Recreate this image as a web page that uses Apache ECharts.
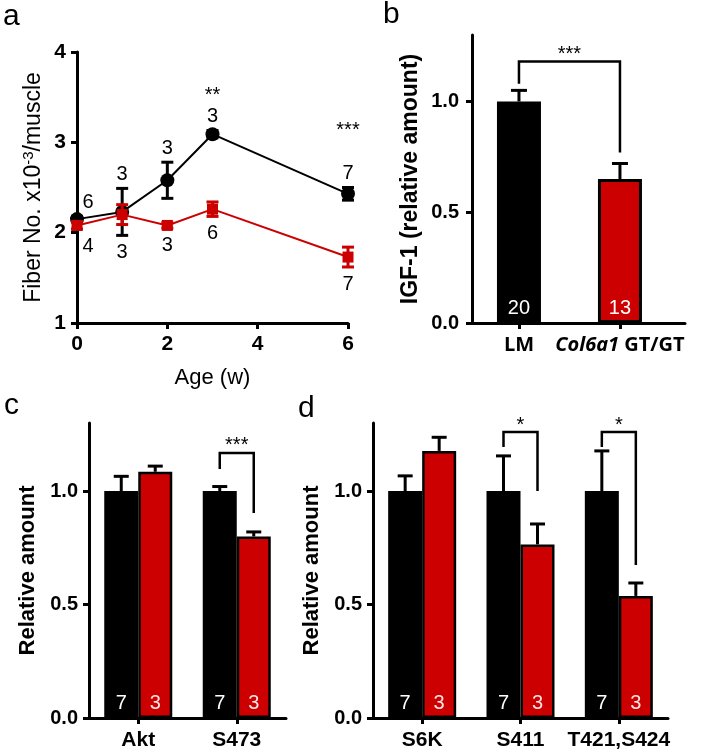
<!DOCTYPE html>
<html><head><meta charset="utf-8">
<script src="https://cdn.jsdelivr.net/npm/echarts@6/dist/echarts.min.js"></script>
<style>html,body{margin:0;padding:0;background:#fff}#c{width:711px;height:753px}</style>
</head><body><div id="c"></div><script>
// ---------- Panel a: fiber number vs age ----------
const ageWeeks   = [0, 1, 2, 3, 6];
const lmFiber    = [2.15, 2.23, 2.58, 3.09, 2.43];
const lmFiberErr = [0.03, 0.26, 0.20, 0.04, 0.07];
const gtFiber    = [2.08, 2.20, 2.08, 2.26, 1.73];
const gtFiberErr = [0.04, 0.11, 0.03, 0.08, 0.11];
const lmFiberN   = [6, 3, 3, 3, 7];
const gtFiberN   = [4, 3, 3, 6, 7];
const fiberStars = ['', '', '', '**', '***'];
const fiberStarY = [null, null, null, 3.52, 3.13];

// ---------- Panel b: IGF-1 ----------
const igfGroups = ['LM', 'Col6a1 GT/GT'];
const igfMean   = [1.0, 0.65];
const igfErr    = [0.05, 0.07];
const igfN      = [20, 13];
const igfBracket = [0, 1, 1.18, 1.08, 0.77]; // from, to, top, left end, right end
const igfStars  = '***';

// ---------- Panel c: Akt ----------
const aktCats  = ['Akt', 'S473'];
const aktLM    = [1.0, 1.0];
const aktLMErr = [0.065, 0.02];
const aktGT    = [1.085, 0.80];
const aktGTErr = [0.025, 0.02];
const aktLMN   = [7, 7];
const aktGTN   = [3, 3];
const aktBrackets = [[1, 1.168, 1.097, 0.903]]; // category, top, left end, right end
const aktStars = ['***'];

// ---------- Panel d: S6K ----------
const s6kCats  = ['S6K', 'S411', 'T421,S424'];
const s6kLM    = [1.0, 1.0, 1.0];
const s6kLMErr = [0.067, 0.155, 0.177];
const s6kGT    = [1.177, 0.765, 0.538];
const s6kGTErr = [0.06, 0.09, 0.057];
const s6kLMN   = [7, 7, 7];
const s6kGTN   = [3, 3, 3];
const s6kBrackets = [[1, 1.26, 1.194, 1.0], [2, 1.26, 1.194, 0.674]];
const s6kStars = ['*', '*'];

const relTicks = [0, 0.5, 1.0];

const FONT = '"Liberation Sans", Arial, sans-serif';
const RED = '#cc0000';
const BLACK = '#000';
const chart = echarts.init(document.getElementById('c'), null, {renderer: 'canvas'});

function axisLineStyle() { return {show: true, onZero: false, lineStyle: {color: BLACK, width: 3}}; }
function tickStyle(vals) {
  const t = {show: true, length: 6, lineStyle: {color: BLACK, width: 3}};
  if (vals) t.customValues = vals;
  return t;
}

function errBars(dx, cap, both, color) {
  return function (params, api) {
    const x = api.value(0), y = api.value(1), e = api.value(2);
    const c = api.coord([x, y]);
    const t = api.coord([x, y + e]);
    const b = both ? api.coord([x, y - e]) : c;
    const px = c[0] + dx;
    const st = {stroke: color, lineWidth: 3};
    const ch = [
      {type: 'line', shape: {x1: px, y1: t[1], x2: px, y2: b[1]}, style: st},
      {type: 'line', shape: {x1: px - cap, y1: t[1], x2: px + cap, y2: t[1]}, style: st}
    ];
    if (both) ch.push({type: 'line', shape: {x1: px - cap, y1: b[1], x2: px + cap, y2: b[1]}, style: st});
    return {type: 'group', children: ch};
  };
}

function bracketRender(dxL, dxR, starsArr) {
  return function (params, api) {
    const x1 = api.value(0), x2 = api.value(1), top = api.value(2), lb = api.value(3), rb = api.value(4);
    const pL = api.coord([x1, lb]), pR = api.coord([x2, rb]);
    const yT = api.coord([x1, top])[1];
    const xl = pL[0] + dxL, xr = pR[0] + dxR;
    return {type: 'group', children: [
      {type: 'polyline', shape: {points: [[xl, pL[1]], [xl, yT], [xr, yT], [xr, pR[1]]]},
        style: {stroke: BLACK, lineWidth: 2.5, fill: null}},
      {type: 'text', x: (xl + xr) / 2, y: yT - 7,
        style: {text: starsArr[params.dataIndex], font: '20px ' + FONT, fill: BLACK, align: 'center', verticalAlign: 'middle'}}
    ]};
  };
}

function textRender(dyPx, dxZero) {
  return function (params, api) {
    const x = api.value(0), y = api.value(1);
    const p = api.coord([x, y]);
    const txt = String(api.value(2));
    return {type: 'text', x: p[0] + (x === 0 ? dxZero : 0), y: p[1] + dyPx,
      style: {text: txt, font: '20px ' + FONT, fill: BLACK, align: 'center', verticalAlign: 'middle'}};
  };
}

// label anchors for panel a
const lmLabelData = ageWeeks.map((x, i) => [x, lmFiber[i] + lmFiberErr[i], lmFiberN[i]]);
const gtLabelData = ageWeeks.map((x, i) => [x, Math.min(gtFiber[i] - gtFiberErr[i], lmFiber[i] - lmFiberErr[i]), gtFiberN[i]]);
const starData = [];
ageWeeks.forEach((x, i) => { if (fiberStars[i]) starData.push([x, fiberStarY[i], i]); });

const relYAxis = (gi, name, gap, nameSize, margin) => ({
  type: 'value', gridIndex: gi, min: 0, max: 1.3,
  axisLine: axisLineStyle(), axisTick: tickStyle(relTicks),
  axisLabel: {customValues: relTicks, formatter: v => v.toFixed(1), fontSize: 20, fontWeight: 'bold', color: BLACK, fontFamily: FONT, margin: margin},
  splitLine: {show: false},
  name: name, nameLocation: 'middle', nameRotate: 90, nameGap: gap,
  nameTextStyle: {fontSize: nameSize, fontWeight: 'bold', color: BLACK, fontFamily: FONT}
});

const catXAxis = (gi, cats) => ({
  type: 'category', gridIndex: gi, data: cats,
  axisLine: axisLineStyle(), axisTick: {show: true, alignWithLabel: true, length: 6, lineStyle: {color: BLACK, width: 3}},
  axisLabel: {interval: 0, fontSize: 21, fontWeight: 'bold', color: BLACK, fontFamily: FONT, margin: 12}
});

function groupedBars(gi, lm, gt, lmN, gtN) {
  const lbl = (arr, col) => ({show: true, position: 'insideBottom', distance: 5, fontSize: 20, color: col, fontFamily: FONT,
    formatter: p => String(arr[p.dataIndex])});
  return [
    {type: 'bar', xAxisIndex: gi, yAxisIndex: gi, data: lm, barWidth: 34, barGap: '0%', z: 2,
      itemStyle: {color: BLACK, borderColor: BLACK, borderWidth: 2.5}, label: lbl(lmN, '#fff')},
    {type: 'bar', xAxisIndex: gi, yAxisIndex: gi, data: gt, barWidth: 34, barGap: '0%', z: 2,
      itemStyle: {color: RED, borderColor: BLACK, borderWidth: 2.5}, label: lbl(gtN, '#fbe4e4')}
  ];
}

const option = {
  backgroundColor: '#fff',
  animation: false,
  grid: [
    {left: 77, top: 52, width: 271, height: 271},
    {left: 472, top: 35, width: 213, height: 288},
    {left: 89, top: 423, width: 197, height: 295},
    {left: 373, top: 423, width: 295, height: 295}
  ],
  xAxis: [
    {type: 'value', gridIndex: 0, min: 0, max: 6, interval: 2,
      axisLine: axisLineStyle(), axisTick: tickStyle(),
      axisLabel: {fontSize: 21, fontWeight: 'bold', color: BLACK, fontFamily: FONT, margin: 11},
      splitLine: {show: false},
      name: 'Age (w)', nameLocation: 'middle', nameGap: 44,
      nameTextStyle: {fontSize: 22, color: BLACK, fontFamily: FONT}},
    {type: 'value', gridIndex: 1, min: -0.465, max: 1.644,
      axisLine: axisLineStyle(), axisTick: tickStyle([0, 1]),
      axisLabel: {customValues: [0, 1], fontSize: 20, fontWeight: 'bold', color: BLACK, fontFamily: '"Open Sans", ' + FONT, margin: 12,
        formatter: v => igfGroups[Math.round(v)].replace('Col6a1', '{it|Col6a1}'),
        rich: {it: {fontStyle: 'italic', fontWeight: 'bold', fontSize: 20, color: BLACK, fontFamily: '"Open Sans", ' + FONT}}},
      splitLine: {show: false}},
    catXAxis(2, aktCats),
    catXAxis(3, s6kCats)
  ],
  yAxis: [
    {type: 'value', gridIndex: 0, min: 1, max: 4, interval: 1,
      axisLine: axisLineStyle(), axisTick: tickStyle(),
      axisLabel: {fontSize: 21, fontWeight: 'bold', color: BLACK, fontFamily: FONT, margin: 11},
      splitLine: {show: false},
      name: 'Fiber No. x10{sup|-3}/muscle', nameLocation: 'middle', nameRotate: 90, nameGap: 30,
      nameTextStyle: {fontSize: 23, color: BLACK, fontFamily: FONT,
        rich: {sup: {fontSize: 15, color: BLACK, fontFamily: FONT, verticalAlign: 'top', padding: [0, 0, 11, 0]}}}},
    relYAxis(1, 'IGF-1 (relative amount)', 50, 23, 13),
    relYAxis(2, 'Relative amount', 50, 22, 11),
    relYAxis(3, 'Relative amount', 50, 22, 11)
  ],
  series: [
    // panel a
    {type: 'line', xAxisIndex: 0, yAxisIndex: 0, data: ageWeeks.map((x, i) => [x, lmFiber[i]]),
      symbol: 'circle', symbolSize: 14, z: 2, lineStyle: {color: BLACK, width: 2}, itemStyle: {color: BLACK}},
    {type: 'custom', xAxisIndex: 0, yAxisIndex: 0, z: 3, renderItem: errBars(0, 6, true, BLACK),
      data: ageWeeks.map((x, i) => [x, lmFiber[i], lmFiberErr[i]]), encode: {x: 0, y: 1}},
    {type: 'line', xAxisIndex: 0, yAxisIndex: 0, data: ageWeeks.map((x, i) => [x, gtFiber[i]]),
      symbol: 'rect', symbolSize: 11, z: 4, lineStyle: {color: RED, width: 2}, itemStyle: {color: RED}},
    {type: 'custom', xAxisIndex: 0, yAxisIndex: 0, z: 5, renderItem: errBars(0, 6, true, RED),
      data: ageWeeks.map((x, i) => [x, gtFiber[i], gtFiberErr[i]]), encode: {x: 0, y: 1}},
    {type: 'custom', xAxisIndex: 0, yAxisIndex: 0, z: 6, renderItem: textRender(-14, 11), data: lmLabelData, encode: {x: 0, y: 1}},
    {type: 'custom', xAxisIndex: 0, yAxisIndex: 0, z: 6, renderItem: textRender(17, 11), data: gtLabelData, encode: {x: 0, y: 1}},
    {type: 'custom', xAxisIndex: 0, yAxisIndex: 0, z: 6, encode: {x: 0, y: 1}, data: starData,
      renderItem: (params, api) => {
        const p = api.coord([api.value(0), api.value(1)]);
        return {type: 'text', x: p[0], y: p[1],
          style: {text: fiberStars[api.value(2)], font: '20px ' + FONT, fill: BLACK, align: 'center', verticalAlign: 'middle'}};
      }},

    // panel b
    {type: 'bar', xAxisIndex: 1, yAxisIndex: 1, barWidth: 44, z: 2,
      data: igfMean.map((v, i) => ({value: [i, v], itemStyle: {color: i === 0 ? BLACK : RED}})),
      itemStyle: {borderColor: BLACK, borderWidth: 3},
      label: {show: true, position: 'insideBottom', distance: 5, fontSize: 20, fontFamily: FONT,
        formatter: p => String(igfN[p.dataIndex]),
        color: '#fff'}},
    {type: 'custom', xAxisIndex: 1, yAxisIndex: 1, z: 3, renderItem: errBars(0, 8, false, BLACK),
      data: igfMean.map((v, i) => [i, v, igfErr[i]]), encode: {x: 0, y: 1}},
    {type: 'custom', xAxisIndex: 1, yAxisIndex: 1, z: 3, renderItem: bracketRender(0, 0, [igfStars]),
      data: [igfBracket], encode: {x: 0, y: 2}},

    // panel c
    ...groupedBars(2, aktLM, aktGT, aktLMN, aktGTN),
    {type: 'custom', xAxisIndex: 2, yAxisIndex: 2, z: 3, renderItem: errBars(-17, 7.5, false, BLACK),
      data: aktLM.map((v, i) => [i, v, aktLMErr[i]]), encode: {x: 0, y: 1}},
    {type: 'custom', xAxisIndex: 2, yAxisIndex: 2, z: 3, renderItem: errBars(17, 7.5, false, BLACK),
      data: aktGT.map((v, i) => [i, v, aktGTErr[i]]), encode: {x: 0, y: 1}},
    {type: 'custom', xAxisIndex: 2, yAxisIndex: 2, z: 3, renderItem: bracketRender(-17, 17, aktStars),
      data: aktBrackets.map(b => [b[0], b[0], b[1], b[2], b[3]]), encode: {x: 0, y: 2}},

    // panel d
    ...groupedBars(3, s6kLM, s6kGT, s6kLMN, s6kGTN),
    {type: 'custom', xAxisIndex: 3, yAxisIndex: 3, z: 3, renderItem: errBars(-17, 7.5, false, BLACK),
      data: s6kLM.map((v, i) => [i, v, s6kLMErr[i]]), encode: {x: 0, y: 1}},
    {type: 'custom', xAxisIndex: 3, yAxisIndex: 3, z: 3, renderItem: errBars(17, 7.5, false, BLACK),
      data: s6kGT.map((v, i) => [i, v, s6kGTErr[i]]), encode: {x: 0, y: 1}},
    {type: 'custom', xAxisIndex: 3, yAxisIndex: 3, z: 3, renderItem: bracketRender(-17, 17, s6kStars),
      data: s6kBrackets.map(b => [b[0], b[0], b[1], b[2], b[3]]), encode: {x: 0, y: 2}}
  ],
  graphic: [
    {type: 'text', left: 3, top: 2, style: {text: 'a', font: '30px ' + FONT, fill: BLACK}},
    {type: 'text', left: 383, top: 0, style: {text: 'b', font: '30px ' + FONT, fill: BLACK}},
    {type: 'text', left: 4, top: 391, style: {text: 'c', font: '30px ' + FONT, fill: BLACK}},
    {type: 'text', left: 298, top: 394, style: {text: 'd', font: '30px ' + FONT, fill: BLACK}}
  ]
};
chart.setOption(option);
</script></body></html>
